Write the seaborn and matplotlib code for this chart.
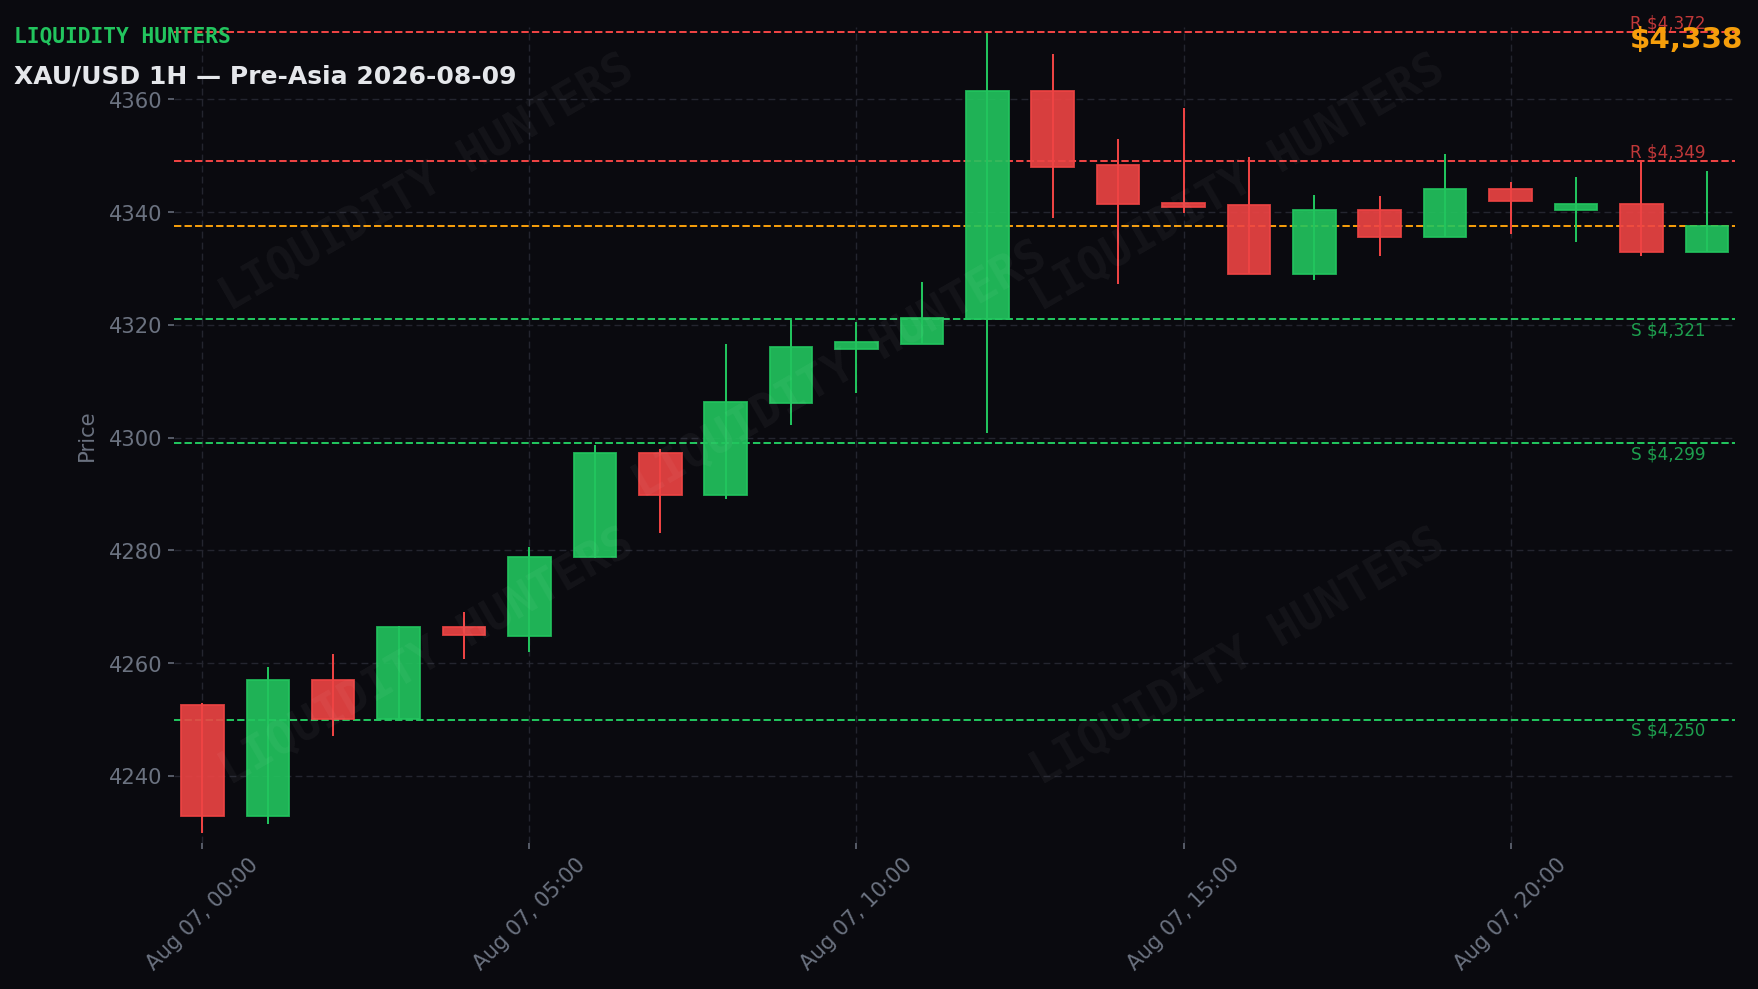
import pandas as pd
import numpy as np
import matplotlib
matplotlib.use("Agg")
import matplotlib.pyplot as plt
import matplotlib.dates as mdates
import seaborn as sns

# candles, XAU/USD 1H
times = pd.to_datetime([
    "2026-08-07 00:00", "2026-08-07 01:00", "2026-08-07 02:00", "2026-08-07 03:00",
    "2026-08-07 04:00", "2026-08-07 05:00", "2026-08-07 06:00", "2026-08-07 07:00",
    "2026-08-07 08:00", "2026-08-07 09:00", "2026-08-07 10:00", "2026-08-07 11:00",
    "2026-08-07 12:00", "2026-08-07 13:00", "2026-08-07 14:00", "2026-08-07 15:00",
    "2026-08-07 16:00", "2026-08-07 17:00", "2026-08-07 18:00", "2026-08-07 19:00",
    "2026-08-07 20:00", "2026-08-07 21:00", "2026-08-07 22:00", "2026-08-07 23:00"])
opens = [4252.5, 4232.9, 4257.0, 4250.1, 4266.4, 4264.8, 4278.8, 4297.3,
         4289.9, 4306.1, 4315.8, 4316.7, 4321.0, 4361.5, 4348.4, 4341.6,
         4341.3, 4329.1, 4340.4, 4335.6, 4344.1, 4340.3, 4341.5, 4332.9]
highs = [4253.0, 4259.3, 4261.6, 4266.6, 4269.1, 4280.6, 4298.7, 4297.9,
         4316.6, 4320.9, 4320.6, 4327.7, 4371.7, 4368.0, 4352.9, 4358.5,
         4349.7, 4343.1, 4342.9, 4350.4, 4345.3, 4346.3, 4348.9, 4347.3]
lows = [4229.9, 4231.5, 4247.1, 4249.7, 4260.8, 4262.0, 4278.6, 4283.0,
        4289.2, 4302.3, 4308.0, 4316.7, 4300.9, 4338.9, 4327.3, 4339.8,
        4329.1, 4327.9, 4332.2, 4335.6, 4336.1, 4334.7, 4332.3, 4332.9]
closes = [4232.9, 4257.0, 4250.1, 4266.4, 4265.0, 4278.8, 4297.3, 4289.9,
          4306.3, 4316.1, 4317.0, 4321.2, 4361.5, 4348.1, 4341.5, 4340.85,
          4329.1, 4340.4, 4335.6, 4344.1, 4341.9, 4341.5, 4332.9, 4337.6]

resistance = [4372, 4349]
support = [4321, 4299, 4250]
current_price = 4337.6

BG = "#0a0a0f"
GREEN = "#22c55e"
RED = "#ef4444"
ORANGE = "#f59e0b"
GREY = "#6b7280"

sns.set_theme(style="dark", rc={
    "axes.facecolor": BG, "figure.facecolor": BG,
    "axes.edgecolor": BG, "text.color": GREY,
    "xtick.color": GREY, "ytick.color": GREY,
    "axes.labelcolor": GREY,
})
plt.rcParams["font.family"] = ["DejaVu Sans"]

df = pd.DataFrame({"time": times, "open": opens, "high": highs,
                   "low": lows, "close": closes})
df["up"] = df["close"] >= df["open"]
df["col"] = np.where(df["up"], GREEN, RED)

fig = plt.figure(figsize=(1758 / 110, 989.4 / 110), dpi=110)
ax = fig.add_axes([0.099, 0.1476, 0.888, 0.825])

w = 0.65 / 24
# wicks
ax.vlines(df["time"], df["low"], df["high"], colors=df["col"], linewidth=1.3, zorder=3)
# bodies
bottom = df[["open", "close"]].min(axis=1)
height = (df["close"] - df["open"]).abs().clip(lower=0.4)
ax.bar(df["time"], height, bottom=bottom, width=w, color=df["col"], alpha=0.9,
       edgecolor=df["col"], linewidth=1.2, zorder=4)

# levels
for r in resistance:
    ax.axhline(r, color=RED, linestyle="--", linewidth=1.3, zorder=2)
    ax.text(0.981, r, f"R ${r:,}", transform=ax.get_yaxis_transform(), color=RED,
            alpha=0.8, fontsize=11, ha="right", va="bottom")
for s in support:
    ax.axhline(s, color=GREEN, linestyle="--", linewidth=1.3, zorder=2)
    ax.text(0.981, s - 0.3, f"S ${s:,}", transform=ax.get_yaxis_transform(), color=GREEN,
            alpha=0.8, fontsize=11, ha="right", va="top")
ax.axhline(current_price, color=ORANGE, linestyle="--", linewidth=1.3, zorder=2)

ax.set_ylim(4228.1, 4372.9)
pad = pd.Timedelta(minutes=26)
ax.set_xlim(df["time"].iloc[0] - pad, df["time"].iloc[-1] + pad)
ax.yaxis.set_major_locator(plt.MultipleLocator(20))
ax.xaxis.set_major_locator(mdates.HourLocator(byhour=[0, 5, 10, 15, 20]))
ax.xaxis.set_major_formatter(mdates.DateFormatter("%b %d, %H:%M"))
ax.tick_params(axis="both", labelsize=13.8, length=4, width=1, colors=GREY)
ax.tick_params(axis="both", which="both", left=True, bottom=True)
plt.setp(ax.get_xticklabels(), rotation=45)
ax.set_ylabel("Price", fontsize=13.8, color=GREY, labelpad=8)
ax.grid(True, color="#24252f", linestyle=(0, (5, 3)), linewidth=0.9)
for sp in ax.spines.values():
    sp.set_visible(False)

# header
fig.text(0.008, 0.9635, "LIQUIDITY HUNTERS", family="DejaVu Sans Mono", weight="bold",
         fontsize=13.9, color=GREEN, ha="left", va="center")
fig.text(0.008, 0.923, "XAU/USD 1H — Pre-Asia 2026-08-09", weight="bold",
         fontsize=16.4, color="#e5e7eb", ha="left", va="center")
fig.text(0.9915, 0.960, f"${current_price:,.0f}", weight="bold", fontsize=19.2,
         color=ORANGE, ha="right", va="center")

# watermark
for x, y in [(0.243, 0.815), (0.704, 0.815), (0.478, 0.626), (0.243, 0.336), (0.704, 0.336)]:
    fig.text(x, y, "LIQUIDITY HUNTERS", family="DejaVu Sans Mono", weight="bold",
             fontsize=30, color="white", alpha=0.045, rotation=30,
             ha="center", va="center")

fig.savefig("out.png", dpi=110, facecolor=BG)
